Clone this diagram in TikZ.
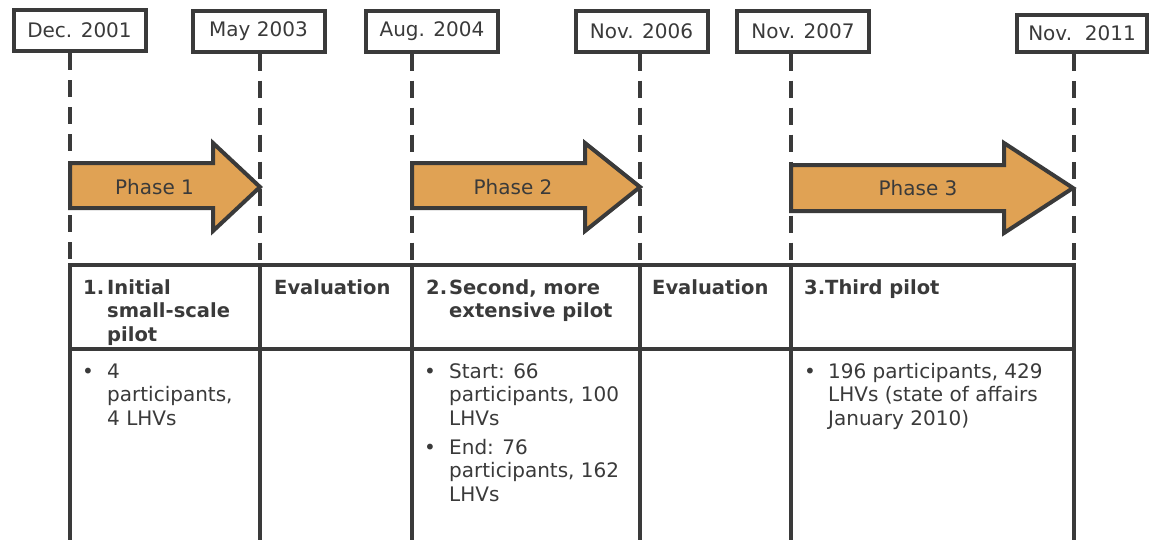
\documentclass[tikz,border=0pt]{standalone}
\usepackage{fontspec}
\setmainfont{DejaVu Sans}
\definecolor{ink}{RGB}{58,58,58}
\definecolor{amber}{RGB}{224,162,84}
\newcommand{\mlines}[1]{\begin{tabular}[t]{@{}l@{}}#1\end{tabular}}
\begin{document}
\begin{tikzpicture}[x=1pt,y=-1pt,
  every node/.style={font=\fontsize{20}{23.5}\selectfont, text=ink, inner sep=0pt},
  datebox/.style={draw=ink, line width=4pt, fill=white, minimum width=132pt, minimum height=41pt},
  vdash/.style={draw=ink, line width=4pt, dash pattern=on 17pt off 10pt},
  grid/.style={draw=ink, line width=3.5pt, line cap=rect},
  phasearrow/.style={draw=ink, fill=amber, line width=4pt, line join=miter},
  hdr/.style={font=\fontsize{19.5}{23.5}\selectfont\bfseries, anchor=base west},
  txt/.style={anchor=base west},
  bul/.style={anchor=base}]
\path[fill=white] (0,0) rectangle (1164,539);
\useasboundingbox (0,0) rectangle (1164,539);

% date boxes
\node[datebox] (d1) at (79.5,30.5) {Dec. 2001};
\node[datebox] (d2) at (258.5,31) {May 2003};
\node[datebox] (d3) at (432,31) {Aug. 2004};
\node[datebox] (d4) at (641.5,31) {Nov. 2006};
\node[datebox] (d5) at (803,31) {Nov. 2007};
\node[datebox, minimum width=130pt, minimum height=37pt] (d6) at (1082,33.5) {Nov.\ \ 2011};

% line coordinates
\coordinate (l1) at (70,265);  \coordinate (e1) at (70,542);
\coordinate (l2) at (260,265); \coordinate (e2) at (260,542);
\coordinate (l3) at (412,265); \coordinate (e3) at (412,542);
\coordinate (l4) at (640,265); \coordinate (e4) at (640,542);
\coordinate (l5) at (791,265); \coordinate (e5) at (791,542);
\coordinate (l6) at (1074,265); \coordinate (e6) at (1074,542);
\coordinate (s1) at (70,349);  \coordinate (s6) at (1074,349);

% dashed timeline markers
\draw[vdash] (d1.south -| l1) -- (l1);
\draw[vdash] (d2.south -| l2) -- (l2);
\draw[vdash] (d3.south -| l3) -- (l3);
\draw[vdash] (d4.south -| l4) -- (l4);
\draw[vdash] (d5.south -| l5) -- (l5);
\draw[vdash] (d6.south -| l6) -- (l6);

% phase arrows
\draw[phasearrow] (70,163) -- (213,163) -- (213,143) -- (260,187) -- (213,231) -- (213,208) -- (70,208) -- cycle;
\draw[phasearrow] (412,163) -- (585,163) -- (585,143) -- (640,187) -- (585,231) -- (585,208) -- (412,208) -- cycle;
\draw[phasearrow] (791,165) -- (1004,165) -- (1004,143) -- (1073,188) -- (1004,233) -- (1004,211) -- (791,211) -- cycle;
\node (p1) at (154.5,187) {Phase 1};
\node (p2) at (513,187) {Phase 2};
\node (p3) at (918,188) {Phase 3};

% table
\draw[grid] (l1) -- (l6);
\draw[grid] (s1) -- (s6);
\foreach \i in {1,...,6} { \draw[grid] (l\i) -- (e\i); }

% headers
\node[hdr] (h1n) at (83,294) {1.};
\node[hdr] (h1) at (107,294) {\mlines{Initial\\small-scale\\pilot}};
\node[hdr] (h2) at (274,294) {Evaluation};
\node[hdr] (h3n) at (426,294) {2.};
\node[hdr] (h3) at (449,294) {\mlines{Second, more\\extensive pilot}};
\node[hdr] (h4) at (652,294) {Evaluation};
\node[hdr] (h5n) at (804,294) {3.};
\node[hdr] (h5) at (825,294) {Third pilot};

% body
\node[bul] (u1) at (88,378) {•};
\node[txt] (b1) at (107,378) {\mlines{4\\participants,\\4 LHVs}};
\node[bul] (u3a) at (430,378) {•};
\node[txt] (b3a) at (449,378) {\mlines{Start: 66\\participants, 100\\LHVs}};
\node[bul] (u3b) at (430,454) {•};
\node[txt] (b3b) at (449,454) {\mlines{End: 76\\participants, 162\\LHVs}};
\node[bul] (u5) at (810,378) {•};
\node[txt] (b5) at (828,378) {\mlines{196 participants, 429\\LHVs (state of affairs\\January 2010)}};
\end{tikzpicture}
\end{document}
